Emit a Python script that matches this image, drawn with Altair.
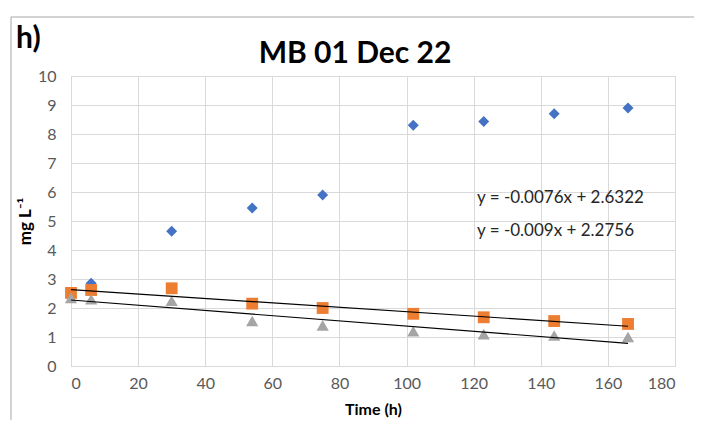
import altair as alt
import pandas as pd

# ---- data ----
time_h = [0, 6, 30, 54, 75, 102, 123, 144, 166]
series_blue = [2.50, 2.85, 4.65, 5.45, 5.90, 8.30, 8.43, 8.70, 8.90]
series_orange = [2.52, 2.62, 2.68, 2.15, 2.00, 1.80, 1.68, 1.55, 1.45]
series_gray = [2.35, 2.30, 2.25, 1.55, 1.40, 1.20, 1.10, 1.05, 1.00]

trend_names = ["orange", "gray"]
trend_slopes = [-0.0076, -0.009]
trend_intercepts = [2.6322, 2.2756]
trend_x_range = [0, 166]
trend_labels = ["y = -0.0076x + 2.6322", "y = -0.009x + 2.2756"]
trend_label_x = [121, 121]
trend_label_y = [5.79, 4.66]

x_ticks = [0, 20, 40, 60, 80, 100, 120, 140, 160, 180]
y_ticks = [0, 1, 2, 3, 4, 5, 6, 7, 8, 9, 10]

chart_title = "MB 01 Dec 22"
panel_tag = "h)"

FONT = "Lato"
GRID = "#d9d9d9"

pts = pd.DataFrame({
    "t": time_h * 3,
    "v": series_blue + series_orange + series_gray,
    "s": ["blue"] * 9 + ["orange"] * 9 + ["gray"] * 9,
})

trend_rows = []
for n, m, b in zip(trend_names, trend_slopes, trend_intercepts):
    for xv in trend_x_range:
        trend_rows.append({"name": n, "t": xv, "m": m, "b": b})
trend_df = pd.DataFrame(trend_rows)

lab_df = pd.DataFrame({"t": trend_label_x, "v": trend_label_y, "label": trend_labels})

xscale = alt.Scale(domain=[0, 180], nice=False, zero=False)
yscale = alt.Scale(domain=[0, 10], nice=False)

xaxis = alt.Axis(values=x_ticks, title="Time (h)", grid=True, gridColor=GRID,
                 domainColor=GRID, ticks=False, labelPadding=9, labelOverlap=False,
                 labelFont=FONT, labelFontSize=16, labelColor="#595959",
                 titleFont=FONT, titleFontSize=16, titleFontWeight="bold",
                 titleColor="#000000", titlePadding=10)
yaxis = alt.Axis(values=y_ticks, title="mg L⁻¹", grid=True, gridColor=GRID,
                 domainColor=GRID, ticks=False, labelPadding=15, labelOverlap=False,
                 labelFont=FONT, labelFontSize=16, labelColor="#595959",
                 titleFont=FONT, titleFontSize=17, titleFontWeight="bold",
                 titleColor="#000000", titlePadding=3)

X = alt.X("t:Q", scale=xscale, axis=xaxis)
Y = alt.Y("v:Q", scale=yscale, axis=yaxis)

base = alt.Chart(pts)

blue = base.transform_filter(alt.datum.s == "blue").mark_point(
    shape="diamond", filled=True, size=120, color="#4472C4", opacity=1
).encode(x=X, y=Y)

orange = base.transform_filter(alt.datum.s == "orange").mark_point(
    shape="square", filled=True, size=140, color="#ED7D31", opacity=1
).encode(x=X, y=Y)

gray = base.transform_filter(alt.datum.s == "gray").mark_point(
    shape="triangle-up", filled=True, size=150, color="#A5A5A5", opacity=1
).encode(x=X, y=Y)

trend = alt.Chart(trend_df).transform_calculate(
    v="datum.m * datum.t + datum.b"
).mark_line(color="#000000", strokeWidth=1.2).encode(
    x=X, y=Y, detail="name:N"
)

labels = alt.Chart(lab_df).mark_text(
    align="left", baseline="middle", font=FONT, fontSize=17, color="#262626"
).encode(x=X, y=Y, text="label:N")

panel_label = alt.Chart(pd.DataFrame({"t": [panel_tag]})).mark_text(
    align="left", baseline="alphabetic", font=FONT, fontSize=30, fontWeight="bold", color="#000000"
).encode(text="t:N", x=alt.value(-55), y=alt.value(-28))

title_mark = alt.Chart(pd.DataFrame({"t": [chart_title]})).mark_text(
    align="center", baseline="alphabetic", font=FONT, fontSize=30, fontWeight="bold", color="#000000"
).encode(text="t:N", x=alt.value(284), y=alt.value(-13))

# chart-area border (left, top, right)
border = alt.Chart(pd.DataFrame({"k": [0]})).mark_rule(color="#a6a6a6", strokeWidth=1)
b_left = border.encode(x=alt.value(-60), y=alt.value(-59), y2=alt.value(360))
b_top = border.encode(x=alt.value(-60), x2=alt.value(627), y=alt.value(-59))
b_right = border.encode(x=alt.value(627), y=alt.value(-59), y2=alt.value(360))

chart = alt.layer(
    blue, orange, gray, trend, labels, panel_label, title_mark, b_left, b_top, b_right
).properties(
    width=604, height=290,
    autosize=alt.AutoSizeParams(type="none"),
    padding={"left": 63, "top": 68, "right": 19, "bottom": 54},
).configure_view(stroke=None).configure(background="#ffffff")

chart.save("out.html", embed_options={"renderer": "svg", "actions": False})
